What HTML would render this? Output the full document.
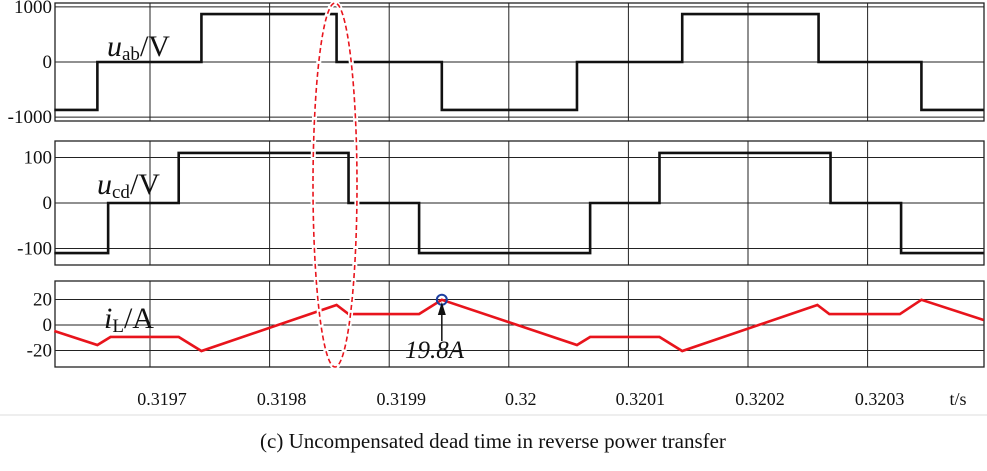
<!DOCTYPE html>
<html><head><meta charset="utf-8"><style>
html,body{margin:0;padding:0;background:#fff}
svg{display:block}
text{font-family:"Liberation Serif",serif;fill:#111}
</style></head><body>
<svg id="c" width="987" height="471" viewBox="0 0 987 471" xmlns="http://www.w3.org/2000/svg">
<g id="grid"></g>
<g id="series"></g>
<g id="labels"></g>
<text x="493" y="448" font-size="21" text-anchor="middle">(c) Uncompensated dead time in reverse power transfer</text>
</svg>
<script>
const xTicks=[0.3197,0.3198,0.3199,0.32,0.3201,0.3202,0.3203];
const xTickLabels=["0.3197","0.3198","0.3199","0.32","0.3201","0.3202","0.3203"];
const uabT=[0.31962,0.319656,0.319743,0.319856,0.319944,0.320057,0.320145,0.320259,0.320345,0.320397];
const uabV=[-870,0,870,0,-870,0,870,0,-870];
const ucdT=[0.31962,0.319665,0.319724,0.319866,0.319925,0.320068,0.320126,0.320269,0.320328,0.320397];
const ucdV=[-110,0,110,0,-110,0,110,0,-110];
const iT=[0.31962,0.319656,0.319667,0.319724,0.319743,0.319856,0.319866,0.319925,0.319944,0.320057,0.320068,0.320126,0.320145,0.320258,0.320268,0.320327,0.320345,0.320397];
const iV=[-4.7,-15.7,-9.4,-9.4,-20.4,15.7,8.6,8.6,19.8,-15.7,-9.4,-9.4,-20.4,15.7,8.6,8.6,19.8,3.9];
const p1Ticks=[1000,0,-1000],p1Labels=["1000","0","-1000"];
const p2Ticks=[100,0,-100],p2Labels=["100","0","-100"];
const p3Ticks=[20,0,-20],p3Labels=["20","0","-20"];

const NS="http://www.w3.org/2000/svg";
const L=55,R=984;
const x=t=>150+(t-0.3197)/1e-4*119.6;
const y1=v=>62-v*0.0551;
const y2=v=>203-v*0.455;
const y3=v=>325-v*1.275;
function mk(tag,parent,attrs){const e=document.createElementNS(NS,tag);for(const k in attrs)e.setAttribute(k,attrs[k]);parent.appendChild(e);return e;}
const G=document.getElementById('grid'),S=document.getElementById('series'),T=document.getElementById('labels');
const panels=[[3,121,y1,p1Ticks,p1Labels],[141,265,y2,p2Ticks,p2Labels],[281,367,y3,p3Ticks,p3Labels]];
panels.forEach((p,i)=>{
  const r=mk('rect',G,{x:L,y:p[0],width:R-L,height:p[1]-p[0],fill:'none',stroke:'#222','stroke-width':1.3});
  
  
  xTicks.forEach(t=>{const l=mk('line',G,{x1:x(t),x2:x(t),y1:p[0],y2:p[1],stroke:'#222','stroke-width':1});
    
    });
  p[3].forEach((v,j)=>{const l=mk('line',G,{x1:L,x2:R,y1:p[2](v),y2:p[2](v),stroke:'#222','stroke-width':1});
    
    
    const tx=mk('text',T,{x:52,y:p[2](v)+6,'font-size':19,'text-anchor':'end'});tx.textContent=p[4][j];
    
    });
});
function stepPath(ts,vs,yf){let d='M'+x(ts[0])+','+yf(vs[0]);for(let i=0;i<vs.length;i++){d+='L'+x(ts[i+1])+','+yf(vs[i]);if(i+1<vs.length)d+='L'+x(ts[i+1])+','+yf(vs[i+1]);}return d;}
const a=mk('path',S,{d:stepPath(uabT,uabV,y1),fill:'none',stroke:'#111','stroke-width':2.6});


const b=mk('path',S,{d:stepPath(ucdT,ucdV,y2),fill:'none',stroke:'#111','stroke-width':2.6});


const c=mk('path',S,{d:'M'+iT.map((t,i)=>x(t)+','+y3(iV[i])).join('L'),fill:'none',stroke:'#e8141c','stroke-width':2.6});


const pk=mk('circle',S,{cx:x(iT[8]),cy:y3(iV[8]),r:5,fill:'none',stroke:'#1d3fa0','stroke-width':2});


const ar=mk('path',S,{d:`M${x(iT[8])},341L${x(iT[8])},312`,stroke:'#111','stroke-width':1.5});


const ah=mk('path',S,{d:`M${x(iT[8])-4},315L${x(iT[8])},302L${x(iT[8])+4},315Z`,fill:'#111'});


const pl=mk('text',T,{x:405,y:358,'font-size':25,'font-style':'italic'});pl.textContent='19.8A';


const e1=mk('ellipse',S,{cx:335,cy:185,rx:22,ry:182,fill:'none',stroke:'#fff','stroke-width':5});


const e2=mk('ellipse',S,{cx:335,cy:185,rx:22,ry:182,fill:'none',stroke:'#e8141c','stroke-width':1.6,'stroke-dasharray':'5,3'});


xTicks.forEach((t,i)=>{const tx=mk('text',T,{x:x(t)+12,y:405,'font-size':18,'text-anchor':'middle'});tx.textContent=xTickLabels[i];
  
  });
const ts=mk('text',T,{x:958,y:405,'font-size':18,'text-anchor':'middle'});ts.textContent='t/s';


const names=[['u','ab','/V',107,56,'uab-label'],['u','cd','/V',97,194,'ucd-label'],['i','L','/A',104,328,'il-label']];
names.forEach(n=>{const tx=mk('text',T,{x:n[3],y:n[4],'font-size':30});
  tx.innerHTML=`<tspan font-style="italic">${n[0]}</tspan><tspan font-size="19" dy="4">${n[1]}</tspan><tspan dy="-4">${n[2]}</tspan>`;
  
  });
const bl=mk('line',G,{x1:0,x2:987,y1:415,y2:415,stroke:'#eee','stroke-width':2});


</script>
</body></html>
